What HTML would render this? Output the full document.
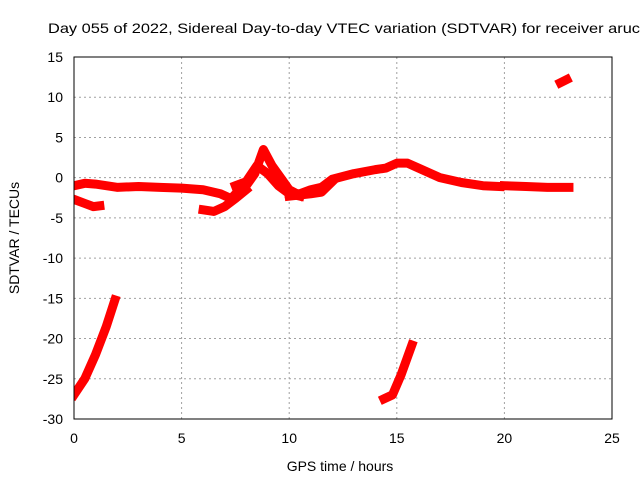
<!DOCTYPE html>
<html><head><meta charset="utf-8"><style>
body{margin:0;background:#fff;}
svg{display:block;font-family:"Liberation Sans",sans-serif;}
</style></head><body>
<svg id="chart" width="640" height="480">
<text x="48" y="33" font-size="14" textLength="592" lengthAdjust="spacingAndGlyphs">Day 055 of 2022, Sidereal Day-to-day VTEC variation (SDTVAR) for receiver aruc</text>
<text x="340" y="471" font-size="14" text-anchor="middle">GPS time / hours</text>
<text transform="translate(19,238) rotate(-90)" font-size="14" text-anchor="middle">SDTVAR / TECUs</text>
<g id="grid"></g><g id="ticks"></g>
<svg x="74" y="57" width="538" height="362" overflow="hidden"><g id="marks" transform="translate(-74,-57)"></g></svg>
<rect x="74" y="57" width="538" height="362" fill="none" stroke="#000"/>
</svg>
<script>
const xTicks=[0,5,10,15,20,25];
const yTicks=[15,10,5,0,-5,-10,-15,-20,-25,-30];
const sA_t=[0,0.5,1,1.5,2,3,4,5,6,6.8,7.3,7.8];
const sA_v=[-1,-0.7,-0.8,-1,-1.2,-1.1,-1.2,-1.3,-1.5,-2,-2.6,-1.2];
const sB_t=[0,0.5,0.9,1.2];
const sB_v=[-2.7,-3.2,-3.6,-3.5];
const sC_t=[6,6.5,7,7.5,8];
const sC_v=[-4,-4.2,-3.6,-2.6,-1.5];
const sD_t=[8,8.4,8.8,9.2,9.6,10,10.5];
const sD_v=[-1,0.5,3.5,1.5,0,-1.5,-2.2];
const sE_t=[7.5,8,8.5,9,9.5,10,10.5];
const sE_v=[-1,-0.5,1.5,0.5,-1,-2,-2.3];
const sF_t=[10,10.5,11,11.5,12,13,14,14.5,15,15.5,16,17,18,19,19.8];
const sF_v=[-2,-2,-1.5,-1.2,-0.2,0.5,1,1.2,1.8,1.8,1.2,0,-0.6,-1,-1.1];
const sG_t=[10,11,11.5,12];
const sG_v=[-2.3,-2,-1.8,-0.5];
const sH_t=[20,21,22,23];
const sH_v=[-1,-1.1,-1.2,-1.2];
const sI_t=[22.6,22.9];
const sI_v=[11.8,12.2];
const sJ_t=[0,0.5,1,1.5,1.9];
const sJ_v=[-27,-25,-22,-18.5,-15.2];
const sK_t=[14.4,14.8,15.2,15.7];
const sK_v=[-27.5,-27,-24.5,-20.8];
const series=[[sA_t,sA_v],[sB_t,sB_v],[sC_t,sC_v],[sD_t,sD_v],[sE_t,sE_v],[sF_t,sF_v],[sG_t,sG_v],[sH_t,sH_v],[sI_t,sI_v],[sJ_t,sJ_v],[sK_t,sK_v]];
const X=t=>74+t*538/25, Y=v=>57+(15-v)*362/45;
const NS="http://www.w3.org/2000/svg";
const grid=document.getElementById('grid'),ticks=document.getElementById('ticks'),marks=document.getElementById('marks');
function mk(tag,attrs,parent){const e=document.createElementNS(NS,tag);for(const k in attrs)e.setAttribute(k,attrs[k]);parent.appendChild(e);return e;}
xTicks.forEach(t=>{
  const l=mk('line',{x1:X(t),x2:X(t),y1:57,y2:419,stroke:'#a0a0a0','stroke-dasharray':'2,3'},grid);
  
  
  const tx=mk('text',{x:X(t),y:443,'font-size':14,'text-anchor':'middle'},ticks);tx.textContent=t;
  
  
});
yTicks.forEach(v=>{
  const l=mk('line',{x1:74,x2:612,y1:Y(v),y2:Y(v),stroke:'#a0a0a0','stroke-dasharray':'2,3'},grid);
  
  
  const tx=mk('text',{x:63,y:Y(v)+5,'font-size':14,'text-anchor':'end'},ticks);tx.textContent=v;
  
  
});
series.forEach(([ts,vs])=>{
  const p=mk('polyline',{points:ts.map((t,i)=>X(t)+','+Y(vs[i])).join(' '),fill:'none',stroke:'#ff0000','stroke-width':9,'stroke-linejoin':'round','stroke-linecap':'square'},marks);
  
  
});
</script>
</body></html>
